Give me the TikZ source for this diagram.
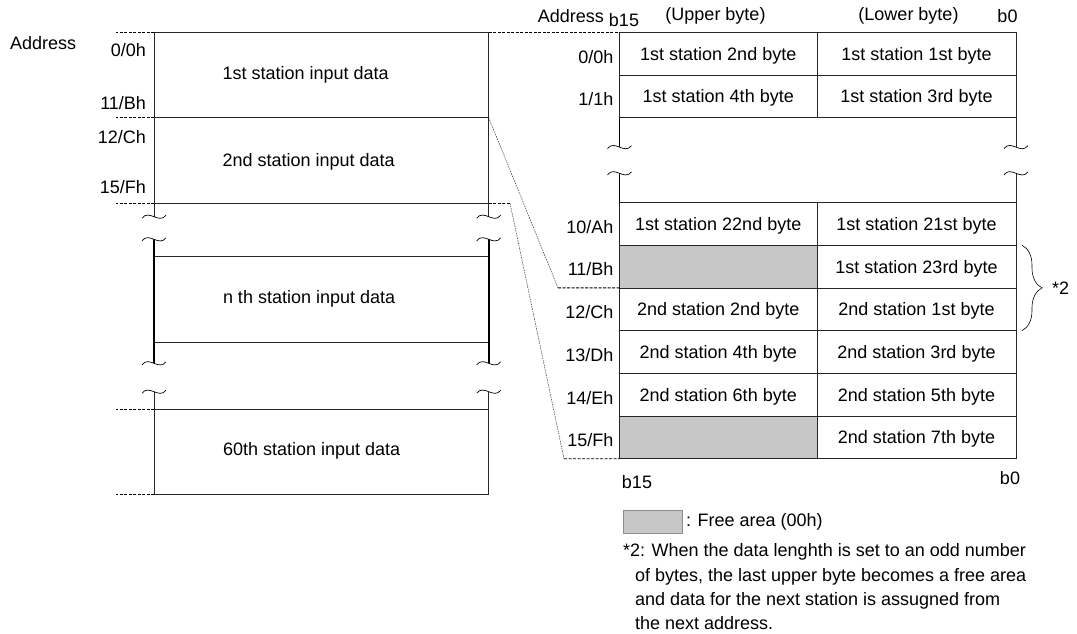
\documentclass[tikz,border=0pt]{standalone}
\usepackage{fontspec}
\setmainfont{Liberation Sans}
\usetikzlibrary{positioning,decorations.pathreplacing}

\tikzset{brk/.pic={\draw[line width=0.7pt] (-12,1.5) .. controls (-5,-8) and (5,8) .. (12,-1.5);}}

\begin{document}
\begin{tikzpicture}[x=1pt, y=-1pt, font=\fontsize{18}{22}\selectfont,
    every node/.style={inner sep=0pt, outer sep=0pt},
    frame/.style={draw=black!85, line width=0.8pt},
    heavy/.style={draw=black, line width=1.8pt},
    lead/.style={draw=black, line width=0.9pt, dash pattern=on 3pt off 1.5pt},
    faint/.style={draw=black!80, line width=0.5pt, dash pattern=on 1.5pt off 1pt},
    blk/.style={frame, minimum width=334.7pt},
    txt/.style={anchor=west},
    cell/.style={frame, minimum height=42.7pt, anchor=north west, text depth=0pt},
    upper/.style={cell, minimum width=197.5pt},
    lower/.style={cell, minimum width=199pt},
    free/.style={upper, fill=black!22},
    adr/.style={left=6pt of #1, yshift=-3pt}]
  \useasboundingbox (0,0) rectangle (1077,633);

  % station areas (left)
  \node[txt] (adrL) at (10,43) {Address};
  \node[blk, minimum height=85.4pt] (st1) at (321.35,75) {};
  \node[blk, minimum height=85.6pt] (st2) at (321.35,160.5) {};
  \node[blk, draw=none, minimum height=86pt] (stn) at (321.35,299.7) {};
  \node[blk, minimum height=85pt] (st60) at (321.35,451.5) {};
  \node[txt] (st1txt) at (222.5,75) {1st station input data};
  \node[txt] (st2txt) at (222.5,162) {2nd station input data};
  \node[txt] (stntxt) at (223,299) {n th station input data};
  \node[txt] (st60txt) at (223,451) {60th station input data};
  \node[anchor=east] (a0) at (146,50) {0/0h};
  \node[anchor=east] (a11) at (146,103) {11/Bh};
  \node[anchor=east] (a12) at (146,137) {12/Ch};
  \node[anchor=east] (a15) at (146,187) {15/Fh};
  \draw[lead] (st1.north west) -- ++(-38,0)
    (st1.south west) -- ++(-38,0)
    (st2.south west) -- ++(-38,0)
    (st60.north west) -- ++(-38,0)
    (st60.south west) -- ++(-38,0);
  \draw[frame] (stn.north west) -- (stn.north east)
    (stn.south west) -- (stn.south east);
  \draw[frame] (st2.south west) -- ++(0,13.4) coordinate (b1)
    (st2.south east) -- ++(0,13.4) coordinate (b2);
  \draw[heavy] (154,239.3) coordinate (b3) -- (154,363.3) coordinate (b5)
    (488.7,239.3) coordinate (b4) -- (488.7,363.3) coordinate (b6);
  \draw[frame] (st60.north west) -- ++(0,-17.3) coordinate (b7)
    (st60.north east) -- ++(0,-17.3) coordinate (b8);
  \pic at (b1) {brk}; \pic at (b2) {brk};
  \pic at (b3) {brk}; \pic at (b4) {brk};
  \pic at (b5) {brk}; \pic at (b6) {brk};
  \pic at (b7) {brk}; \pic at (b8) {brk};

  % byte table (right)
  \node[anchor=east] (hadr) at (604,16) {Address};
  \node (hb15) at (624,20) {b15};
  \node (hup) at (715.5,16) {(Upper byte)};
  \node (hlo) at (908.5,16) {(Lower byte)};
  \node (hb0) at (1007.5,16) {b0};

  \node[upper] (up0) at (619.5,32.3) {1st station 2nd byte};
  \node[lower, right=0pt of up0] (lo0) {1st station 1st byte};
  \node[upper, below=0pt of up0] (up1) {1st station 4th byte};
  \node[lower, right=0pt of up1] (lo1) {1st station 3rd byte};
  \node[upper] (upA) at (619.5,202.5) {1st station 22nd byte};
  \node[lower, right=0pt of upA] (loA) {1st station 21st byte};
  \node[free, below=0pt of upA] (upB) {};
  \node[lower, right=0pt of upB] (loB) {1st station 23rd byte};
  \node[upper, below=0pt of upB] (upC) {2nd station 2nd byte};
  \node[lower, right=0pt of upC] (loC) {2nd station 1st byte};
  \node[upper, below=0pt of upC] (upD) {2nd station 4th byte};
  \node[lower, right=0pt of upD] (loD) {2nd station 3rd byte};
  \node[upper, below=0pt of upD] (upE) {2nd station 6th byte};
  \node[lower, right=0pt of upE] (loE) {2nd station 5th byte};
  \node[free, below=0pt of upE] (upF) {};
  \node[lower, right=0pt of upF] (loF) {2nd station 7th byte};

  \node[adr=up0.west] (r0) {0/0h};
  \node[adr=up1.west] (r1) {1/1h};
  \node[adr=upA.west] (rA) {10/Ah};
  \node[adr=upB.west] (rB) {11/Bh};
  \node[adr=upC.west] (rC) {12/Ch};
  \node[adr=upD.west] (rD) {13/Dh};
  \node[adr=upE.west] (rE) {14/Eh};
  \node[adr=upF.west] (rF) {15/Fh};

  \draw[heavy] (up1.south west) -- ++(0,29.4) coordinate (g1);
  \draw[heavy] (upA.north west) -- ++(0,-29.2) coordinate (g2);
  \draw[frame] (lo1.south east) -- ++(0,29.4) coordinate (g3);
  \draw[frame] (loA.north east) -- ++(0,-29.2) coordinate (g4);
  \pic at (g1) {brk}; \pic at (g2) {brk};
  \pic at (g3) {brk}; \pic at (g4) {brk};

  \node (fb15) at (637,482) {b15};
  \node (fb0) at (1010,478) {b0};

  % leads from station areas to the table
  \coordinate (m1) at (558,287.9);
  \coordinate (m2) at (510,203.3);
  \coordinate (m3) at (564,458.7);
  \draw[lead] (st1.north east) -- (up0.north west);
  \draw[faint] (st1.south east) -- (m1);
  \draw[lead] (m1) -- (upB.south west);
  \draw[lead] (st2.south east) -- (m2);
  \draw[faint] (m2) -- (m3);
  \draw[lead] (m3) -- (upF.south west);

  \draw[decorate, decoration={brace, amplitude=20pt}, line width=0.6pt]
    ([xshift=6pt]loB.north east) -- ([xshift=6pt]loC.south east)
    node[midway, anchor=west, xshift=30pt] (star2) {*2};

  % key and note
  \node[draw=black!45, line width=0.6pt, fill=black!22, minimum width=59pt,
    minimum height=23pt, anchor=north west] (key) at (623,510) {};
  \node[right=4pt of key] (keytxt) {: Free area (00h)};
  \node[anchor=base west] (n1) at (623,556.5) {*2: When the data lenghth is set to an odd number};
  \node[anchor=base west] (n2) at (635,581) {of bytes, the last upper byte becomes a free area};
  \node[anchor=base west] (n3) at (635,605.5) {and data for the next station is assugned from};
  \node[anchor=base west] (n4) at (635,629.5) {the next address.};
\end{tikzpicture}
\end{document}
